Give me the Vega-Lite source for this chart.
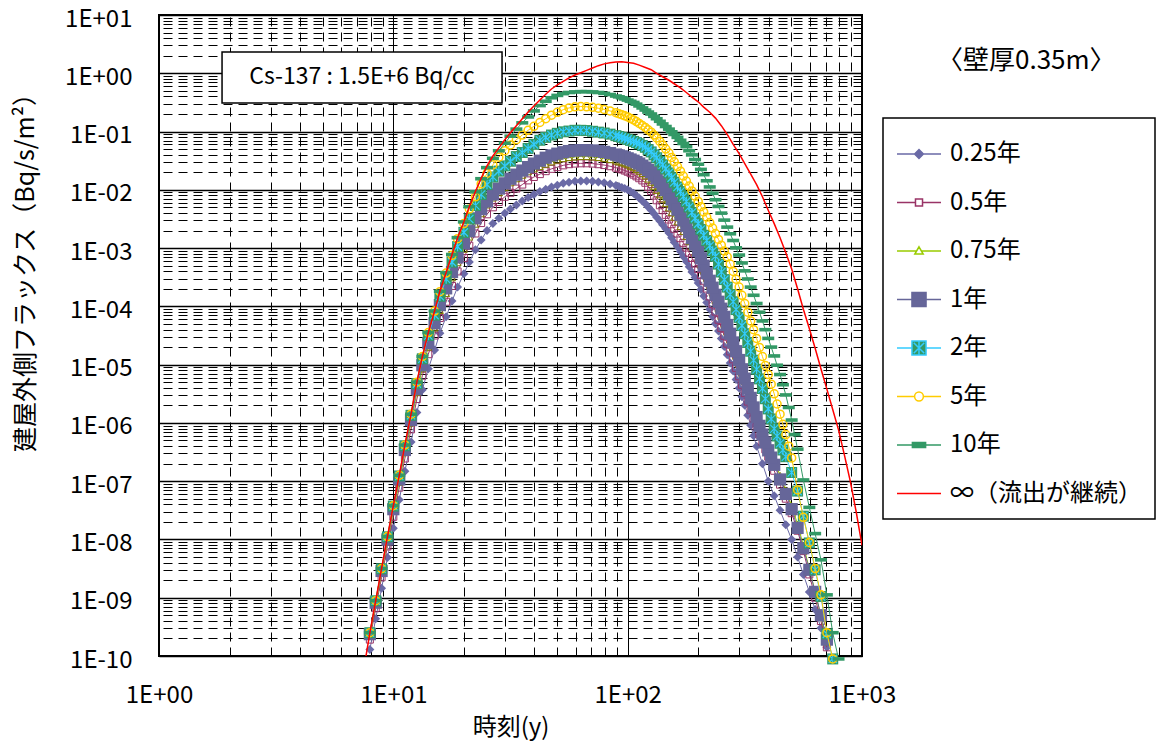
{
"$schema":"https://vega.github.io/schema/vega-lite/v6.json",
"width":703,"height":641,
"autosize":{"type":"none"},
"padding":{"left":159,"top":15,"right":301,"bottom":90},
"background":"white",
"config":{"font":"Noto Sans CJK JP","view":{"stroke":"black","strokeWidth":2,"fill":"white"},
"axis":{"labelFont":"Noto Sans CJK JP","titleFont":"Noto Sans CJK JP","labelColor":"black","titleColor":"black","titleFontWeight":"normal"},
"legend":{"strokeWidth":1.5}},
"title":{"text":"〈壁厚0.35m〉","anchor":"start","frame":"group","dx":778,"dy":80,"offset":0,"baseline":"middle","fontSize":26,"font":"Noto Sans CJK JP","fontWeight":"normal","color":"black"},
"datasets":{
"inf":[{"t":7.5,"f":6.3e-11},{"t":7.94,"f":2.5e-10},{"t":8.41,"f":8.9e-10},{"t":8.91,"f":3.2e-9},{"t":9.44,"f":1.12e-8},{"t":10,"f":3.8e-8},{"t":10.6,"f":1.26e-7},{"t":11.2,"f":4.17e-7},{"t":11.9,"f":1.41e-6},{"t":12.6,"f":5e-6},{"t":13.3,"f":1.38e-5},{"t":14.1,"f":3.55e-5},{"t":15,"f":8.3e-5},{"t":15.8,"f":1.82e-4},{"t":16.8,"f":3.8e-4},{"t":17.8,"f":7.76e-4},{"t":18.8,"f":1.51e-3},{"t":20,"f":2.82e-3},{"t":21.1,"f":5.13e-3},{"t":22.4,"f":9.33e-3},{"t":23.7,"f":0.0158},{"t":25.1,"f":0.0257},{"t":26.6,"f":0.038},{"t":28.2,"f":0.0525},{"t":29.9,"f":0.0724},{"t":31.6,"f":0.0955},{"t":33.5,"f":0.126},{"t":35.5,"f":0.166},{"t":37.6,"f":0.216},{"t":39.8,"f":0.275},{"t":42.2,"f":0.347},{"t":44.7,"f":0.437},{"t":47.3,"f":0.537},{"t":50.1,"f":0.631},{"t":53.1,"f":0.724},{"t":56.2,"f":0.832},{"t":59.6,"f":0.933},{"t":63.1,"f":1.02},{"t":66.8,"f":1.12},{"t":70.8,"f":1.23},{"t":75,"f":1.35},{"t":79.4,"f":1.45},{"t":84.1,"f":1.51},{"t":89.1,"f":1.56},{"t":94.4,"f":1.57},{"t":100,"f":1.53},{"t":106,"f":1.48},{"t":112,"f":1.38},{"t":119,"f":1.26},{"t":126,"f":1.15},{"t":133,"f":1.0},{"t":141,"f":0.871},{"t":150,"f":0.759},{"t":158,"f":0.661},{"t":168,"f":0.562},{"t":178,"f":0.468},{"t":188,"f":0.389},{"t":200,"f":0.324},{"t":211,"f":0.263},{"t":224,"f":0.214},{"t":237,"f":0.17},{"t":251,"f":0.126},{"t":266,"f":0.0891},{"t":282,"f":0.0603},{"t":299,"f":0.0417},{"t":316,"f":0.0282},{"t":335,"f":0.0186},{"t":355,"f":0.0123},{"t":376,"f":7.59e-3},{"t":398,"f":4.47e-3},{"t":422,"f":2.63e-3},{"t":447,"f":1.51e-3},{"t":473,"f":8.32e-4},{"t":501,"f":4.37e-4},{"t":531,"f":2e-4},{"t":562,"f":8.91e-5},{"t":596,"f":4.17e-5},{"t":631,"f":1.91e-5},{"t":668,"f":8.51e-6},{"t":708,"f":3.8e-6},{"t":750,"f":1.7e-6},{"t":794,"f":7.59e-7},{"t":841,"f":2.82e-7},{"t":891,"f":1e-7},{"t":944,"f":3.02e-8},{"t":1000,"f":7.94e-9}],
"y025":[{"t":7.94,"f":1.29e-10},{"t":8.41,"f":4.37e-10},{"t":8.91,"f":1.45e-9},{"t":9.44,"f":4.9e-9},{"t":10,"f":1.55e-8},{"t":10.6,"f":4.79e-8},{"t":11.2,"f":1.48e-7},{"t":11.9,"f":4.68e-7},{"t":12.6,"f":1.51e-6},{"t":13.3,"f":3.72e-6},{"t":14.1,"f":8.51e-6},{"t":15,"f":1.78e-5},{"t":15.8,"f":3.47e-5},{"t":16.8,"f":6.61e-5},{"t":17.8,"f":1.23e-4},{"t":18.8,"f":2.14e-4},{"t":20,"f":3.63e-4},{"t":21.1,"f":5.75e-4},{"t":22.4,"f":9.33e-4},{"t":23.7,"f":1.38e-3},{"t":25.1,"f":2e-3},{"t":26.6,"f":2.63e-3},{"t":28.2,"f":3.24e-3},{"t":29.9,"f":3.98e-3},{"t":31.6,"f":4.68e-3},{"t":33.5,"f":5.5e-3},{"t":35.5,"f":6.46e-3},{"t":37.6,"f":7.41e-3},{"t":39.8,"f":8.32e-3},{"t":42.2,"f":9.33e-3},{"t":44.7,"f":0.0102},{"t":47.3,"f":0.0112},{"t":50.1,"f":0.012},{"t":53.1,"f":0.0129},{"t":56.2,"f":0.0135},{"t":59.6,"f":0.014},{"t":63.1,"f":0.0141},{"t":66.8,"f":0.0141},{"t":70.8,"f":0.014},{"t":75,"f":0.0136},{"t":79.4,"f":0.0132},{"t":84.1,"f":0.0126},{"t":89.1,"f":0.0119},{"t":94.4,"f":0.011},{"t":100,"f":0.01},{"t":106,"f":8.71e-3},{"t":112,"f":7.24e-3},{"t":119,"f":5.75e-3},{"t":126,"f":4.47e-3},{"t":133,"f":3.39e-3},{"t":141,"f":2.51e-3},{"t":150,"f":1.82e-3},{"t":158,"f":1.26e-3},{"t":168,"f":8.71e-4},{"t":178,"f":5.89e-4},{"t":188,"f":3.89e-4},{"t":200,"f":2.51e-4},{"t":211,"f":1.51e-4},{"t":224,"f":8.91e-5},{"t":237,"f":5.01e-5},{"t":251,"f":2.82e-5},{"t":266,"f":1.48e-5},{"t":282,"f":7.76e-6},{"t":299,"f":3.98e-6},{"t":316,"f":2e-6},{"t":335,"f":9.12e-7},{"t":355,"f":3.98e-7},{"t":376,"f":2e-7},{"t":398,"f":1e-7},{"t":422,"f":5.62e-8},{"t":447,"f":3.16e-8},{"t":473,"f":1.78e-8},{"t":501,"f":1e-8},{"t":531,"f":5.01e-9},{"t":562,"f":2.51e-9},{"t":596,"f":1.26e-9},{"t":631,"f":6.31e-10},{"t":668,"f":3.02e-10},{"t":708,"f":1.41e-10},
{"t":91.7,"f":0.0114},{"t":97.2,"f":0.0105},{"t":102.9,"f":9.33e-3},{"t":109,"f":7.94e-3},{"t":115.5,"f":6.46e-3},{"t":122.3,"f":5.07e-3},{"t":129.6,"f":3.89e-3},{"t":137.2,"f":2.92e-3},{"t":145.4,"f":2.14e-3},{"t":154,"f":1.51e-3},{"t":163.1,"f":1.05e-3},{"t":172.8,"f":7.16e-4},{"t":183,"f":4.79e-4},{"t":193.9,"f":3.13e-4},{"t":205.4,"f":1.95e-4},{"t":217.5,"f":1.16e-4},{"t":230.4,"f":6.68e-5},{"t":244.1,"f":3.76e-5},{"t":258.5,"f":2.04e-5},{"t":273.8,"f":1.07e-5},{"t":290.1,"f":5.56e-6},{"t":307.3,"f":2.82e-6},{"t":325.5,"f":1.35e-6},{"t":344.7,"f":6.03e-7}],
"y05":[{"t":7.94,"f":1.91e-10},{"t":8.41,"f":6.61e-10},{"t":8.91,"f":2.24e-9},{"t":9.44,"f":7.59e-9},{"t":10,"f":2.45e-8},{"t":10.6,"f":7.76e-8},{"t":11.2,"f":2.45e-7},{"t":11.9,"f":7.76e-7},{"t":12.6,"f":2.57e-6},{"t":13.3,"f":6.46e-6},{"t":14.1,"f":1.51e-5},{"t":15,"f":3.16e-5},{"t":15.8,"f":6.31e-5},{"t":16.8,"f":1.2e-4},{"t":17.8,"f":2.24e-4},{"t":18.8,"f":3.98e-4},{"t":20,"f":6.76e-4},{"t":21.1,"f":1.1e-3},{"t":22.4,"f":1.78e-3},{"t":23.7,"f":2.69e-3},{"t":25.1,"f":3.8e-3},{"t":26.6,"f":5.01e-3},{"t":28.2,"f":6.17e-3},{"t":29.9,"f":7.59e-3},{"t":31.6,"f":8.91e-3},{"t":33.5,"f":0.0105},{"t":35.5,"f":0.0123},{"t":37.6,"f":0.0145},{"t":39.8,"f":0.0166},{"t":42.2,"f":0.0186},{"t":44.7,"f":0.0209},{"t":47.3,"f":0.0229},{"t":50.1,"f":0.0245},{"t":53.1,"f":0.0263},{"t":56.2,"f":0.0275},{"t":59.6,"f":0.0282},{"t":63.1,"f":0.0285},{"t":66.8,"f":0.0285},{"t":70.8,"f":0.0282},{"t":75,"f":0.0275},{"t":79.4,"f":0.0266},{"t":84.1,"f":0.0254},{"t":89.1,"f":0.024},{"t":94.4,"f":0.0224},{"t":100,"f":0.0204},{"t":106,"f":0.0182},{"t":112,"f":0.0158},{"t":119,"f":0.0132},{"t":126,"f":9.55e-3},{"t":133,"f":6.61e-3},{"t":141,"f":4.47e-3},{"t":150,"f":3.09e-3},{"t":158,"f":2.14e-3},{"t":168,"f":1.48e-3},{"t":178,"f":1.02e-3},{"t":188,"f":6.76e-4},{"t":200,"f":4.37e-4},{"t":211,"f":2.75e-4},{"t":224,"f":1.48e-4},{"t":237,"f":8.13e-5},{"t":251,"f":4.27e-5},{"t":266,"f":2.29e-5},{"t":282,"f":1.23e-5},{"t":299,"f":6.31e-6},{"t":316,"f":3.24e-6},{"t":335,"f":1.66e-6},{"t":355,"f":8.51e-7},{"t":376,"f":4.68e-7},{"t":398,"f":2.63e-7},{"t":422,"f":1.51e-7},{"t":447,"f":8.71e-8},{"t":473,"f":5.01e-8},{"t":501,"f":2.82e-8},{"t":531,"f":1.41e-8},{"t":562,"f":6.31e-9},{"t":596,"f":2.51e-9},{"t":631,"f":1e-9},{"t":668,"f":3.98e-10},{"t":708,"f":1.41e-10},
{"t":91.7,"f":0.0232},{"t":97.2,"f":0.0214},{"t":102.9,"f":0.0193},{"t":109,"f":0.017},{"t":115.5,"f":0.0145},{"t":122.3,"f":0.0112},{"t":129.6,"f":7.94e-3},{"t":137.2,"f":5.43e-3},{"t":145.4,"f":3.72e-3},{"t":154,"f":2.57e-3},{"t":163.1,"f":1.78e-3},{"t":172.8,"f":1.23e-3},{"t":183,"f":8.32e-4},{"t":193.9,"f":5.43e-4},{"t":205.4,"f":3.47e-4},{"t":217.5,"f":2.02e-4},{"t":230.4,"f":1.1e-4},{"t":244.1,"f":5.89e-5},{"t":258.5,"f":3.13e-5},{"t":273.8,"f":1.68e-5},{"t":290.1,"f":8.81e-6},{"t":307.3,"f":4.52e-6},{"t":325.5,"f":2.32e-6},{"t":344.7,"f":1.19e-6},{"t":365.2,"f":6.31e-7},{"t":386.8,"f":3.51e-7}],
"y075":[{"t":7.94,"f":2.21e-10},{"t":8.41,"f":7.67e-10},{"t":8.91,"f":2.66e-9},{"t":9.44,"f":9.12e-9},{"t":10,"f":3.02e-8},{"t":10.6,"f":9.55e-8},{"t":11.2,"f":3.09e-7},{"t":11.9,"f":1e-6},{"t":12.6,"f":3.31e-6},{"t":13.3,"f":8.51e-6},{"t":14.1,"f":2e-5},{"t":15,"f":4.27e-5},{"t":15.8,"f":8.51e-5},{"t":16.8,"f":1.66e-4},{"t":17.8,"f":3.09e-4},{"t":18.8,"f":5.62e-4},{"t":20,"f":9.55e-4},{"t":21.1,"f":1.55e-3},{"t":22.4,"f":2.57e-3},{"t":23.7,"f":3.89e-3},{"t":25.1,"f":5.5e-3},{"t":26.6,"f":7.24e-3},{"t":28.2,"f":8.91e-3},{"t":29.9,"f":0.011},{"t":31.6,"f":0.0132},{"t":33.5,"f":0.0155},{"t":35.5,"f":0.0178},{"t":37.6,"f":0.0204},{"t":39.8,"f":0.0229},{"t":42.2,"f":0.0251},{"t":44.7,"f":0.0275},{"t":47.3,"f":0.0302},{"t":50.1,"f":0.0324},{"t":53.1,"f":0.0343},{"t":56.2,"f":0.0359},{"t":59.6,"f":0.0367},{"t":63.1,"f":0.0372},{"t":66.8,"f":0.0372},{"t":70.8,"f":0.0367},{"t":75,"f":0.0359},{"t":79.4,"f":0.0347},{"t":84.1,"f":0.0331},{"t":89.1,"f":0.0313},{"t":94.4,"f":0.0292},{"t":100,"f":0.0269},{"t":106,"f":0.024},{"t":112,"f":0.0209},{"t":119,"f":0.0174},{"t":126,"f":0.0135},{"t":133,"f":9.77e-3},{"t":141,"f":6.92e-3},{"t":150,"f":4.9e-3},{"t":158,"f":3.39e-3},{"t":168,"f":2.34e-3},{"t":178,"f":1.58e-3},{"t":188,"f":1.05e-3},{"t":200,"f":6.76e-4},{"t":211,"f":4.07e-4},{"t":224,"f":2.29e-4},{"t":237,"f":1.26e-4},{"t":251,"f":6.76e-5},{"t":266,"f":3.63e-5},{"t":282,"f":1.95e-5},{"t":299,"f":1e-5},{"t":316,"f":5.13e-6},{"t":335,"f":2.63e-6},{"t":355,"f":1.35e-6},{"t":376,"f":7.24e-7},{"t":398,"f":3.98e-7},{"t":422,"f":2.24e-7},{"t":447,"f":1.26e-7},{"t":473,"f":7.08e-8},{"t":501,"f":3.8e-8},{"t":531,"f":1.82e-8},{"t":562,"f":7.94e-9},{"t":596,"f":3.16e-9},{"t":631,"f":1.26e-9},{"t":668,"f":4.79e-10},{"t":708,"f":1.74e-10},
{"t":91.7,"f":0.0302},{"t":97.2,"f":0.028},{"t":102.9,"f":0.0254},{"t":109,"f":0.0224},{"t":115.5,"f":0.0191},{"t":122.3,"f":0.0153},{"t":129.6,"f":0.0115},{"t":137.2,"f":8.22e-3},{"t":145.4,"f":5.82e-3},{"t":154,"f":4.07e-3},{"t":163.1,"f":2.82e-3},{"t":172.8,"f":1.93e-3},{"t":183,"f":1.29e-3},{"t":193.9,"f":8.41e-4},{"t":205.4,"f":5.25e-4},{"t":217.5,"f":3.05e-4},{"t":230.4,"f":1.7e-4},{"t":244.1,"f":9.23e-5},{"t":258.5,"f":4.95e-5},{"t":273.8,"f":2.66e-5},{"t":290.1,"f":1.4e-5},{"t":307.3,"f":7.16e-6},{"t":325.5,"f":3.67e-6},{"t":344.7,"f":1.88e-6},{"t":365.2,"f":9.89e-7},{"t":386.8,"f":5.37e-7},{"t":409.7,"f":2.99e-7}],
"y1":[{"t":7.94,"f":2.37e-10},{"t":8.41,"f":8.22e-10},{"t":8.91,"f":2.88e-9},{"t":9.44,"f":1e-8},{"t":10,"f":3.31e-8},{"t":10.6,"f":1.07e-7},{"t":11.2,"f":3.43e-7},{"t":11.9,"f":1.12e-6},{"t":12.6,"f":3.8e-6},{"t":13.3,"f":9.77e-6},{"t":14.1,"f":2.34e-5},{"t":15,"f":5.13e-5},{"t":15.8,"f":1.05e-4},{"t":16.8,"f":2.04e-4},{"t":17.8,"f":3.89e-4},{"t":18.8,"f":6.92e-4},{"t":20,"f":1.2e-3},{"t":21.1,"f":1.95e-3},{"t":22.4,"f":3.24e-3},{"t":23.7,"f":4.68e-3},{"t":25.1,"f":6.31e-3},{"t":26.6,"f":8.32e-3},{"t":28.2,"f":0.0105},{"t":29.9,"f":0.0129},{"t":31.6,"f":0.0155},{"t":33.5,"f":0.0182},{"t":35.5,"f":0.0214},{"t":37.6,"f":0.0245},{"t":39.8,"f":0.0282},{"t":42.2,"f":0.0316},{"t":44.7,"f":0.0355},{"t":47.3,"f":0.0389},{"t":50.1,"f":0.0417},{"t":53.1,"f":0.0442},{"t":56.2,"f":0.0462},{"t":59.6,"f":0.0473},{"t":63.1,"f":0.0479},{"t":66.8,"f":0.0479},{"t":70.8,"f":0.0473},{"t":75,"f":0.0462},{"t":79.4,"f":0.0447},{"t":84.1,"f":0.0427},{"t":89.1,"f":0.0403},{"t":94.4,"f":0.0376},{"t":100,"f":0.0347},{"t":106,"f":0.0316},{"t":112,"f":0.0282},{"t":119,"f":0.024},{"t":126,"f":0.02},{"t":133,"f":0.0158},{"t":141,"f":0.0117},{"t":150,"f":8.32e-3},{"t":158,"f":5.62e-3},{"t":168,"f":3.72e-3},{"t":178,"f":2.4e-3},{"t":188,"f":1.48e-3},{"t":200,"f":8.91e-4},{"t":211,"f":5.01e-4},{"t":224,"f":2.75e-4},{"t":237,"f":1.58e-4},{"t":251,"f":9.12e-5},{"t":266,"f":4.79e-5},{"t":282,"f":2.4e-5},{"t":299,"f":1.2e-5},{"t":316,"f":5.75e-6},{"t":335,"f":2.69e-6},{"t":355,"f":1.26e-6},{"t":376,"f":6.31e-7},{"t":398,"f":3.39e-7},{"t":422,"f":1.91e-7},{"t":447,"f":1.07e-7},{"t":473,"f":6.03e-8},{"t":501,"f":3.31e-8},{"t":531,"f":1.58e-8},{"t":562,"f":7.08e-9},{"t":596,"f":3.02e-9},{"t":631,"f":1.26e-9},{"t":668,"f":5.01e-10},{"t":708,"f":1.91e-10},
{"t":91.7,"f":0.0389},{"t":97.2,"f":0.0361},{"t":102.9,"f":0.0331},{"t":109,"f":0.0299},{"t":115.5,"f":0.026},{"t":122.3,"f":0.0219},{"t":129.6,"f":0.0178},{"t":137.2,"f":0.0136},{"t":145.4,"f":9.89e-3},{"t":154,"f":6.84e-3},{"t":163.1,"f":4.57e-3},{"t":172.8,"f":2.99e-3},{"t":183,"f":1.88e-3},{"t":193.9,"f":1.15e-3},{"t":205.4,"f":6.68e-4},{"t":217.5,"f":3.72e-4},{"t":230.4,"f":2.09e-4},{"t":244.1,"f":1.2e-4},{"t":258.5,"f":6.61e-5},{"t":273.8,"f":3.39e-5},{"t":290.1,"f":1.7e-5},{"t":307.3,"f":8.32e-6},{"t":325.5,"f":3.94e-6},{"t":344.7,"f":1.84e-6},{"t":365.2,"f":8.91e-7},{"t":386.8,"f":4.62e-7},{"t":409.7,"f":2.54e-7}],
"y2":[{"t":7.94,"f":2.51e-10},{"t":8.41,"f":8.87e-10},{"t":8.91,"f":3.14e-9},{"t":9.44,"f":1.11e-8},{"t":10,"f":3.74e-8},{"t":10.6,"f":1.23e-7},{"t":11.2,"f":4.05e-7},{"t":11.9,"f":1.35e-6},{"t":12.6,"f":4.72e-6},{"t":13.3,"f":1.26e-5},{"t":14.1,"f":3.16e-5},{"t":15,"f":7.08e-5},{"t":15.8,"f":1.49e-4},{"t":16.8,"f":2.95e-4},{"t":17.8,"f":5.75e-4},{"t":18.8,"f":1.06e-3},{"t":20,"f":1.86e-3},{"t":21.1,"f":3.16e-3},{"t":22.4,"f":5.37e-3},{"t":23.7,"f":8.32e-3},{"t":25.1,"f":0.0123},{"t":26.6,"f":0.0166},{"t":28.2,"f":0.0209},{"t":29.9,"f":0.0257},{"t":31.6,"f":0.0309},{"t":33.5,"f":0.0372},{"t":35.5,"f":0.0437},{"t":37.6,"f":0.0513},{"t":39.8,"f":0.0603},{"t":42.2,"f":0.0708},{"t":44.7,"f":0.0794},{"t":47.3,"f":0.0871},{"t":50.1,"f":0.0933},{"t":53.1,"f":0.0989},{"t":56.2,"f":0.102},{"t":59.6,"f":0.105},{"t":63.1,"f":0.105},{"t":66.8,"f":0.104},{"t":70.8,"f":0.101},{"t":75,"f":0.0977},{"t":79.4,"f":0.0944},{"t":84.1,"f":0.0902},{"t":89.1,"f":0.0851},{"t":94.4,"f":0.0794},{"t":100,"f":0.0733},{"t":106,"f":0.0676},{"t":112,"f":0.0617},{"t":119,"f":0.0537},{"t":126,"f":0.0447},{"t":133,"f":0.0355},{"t":141,"f":0.0269},{"t":150,"f":0.0195},{"t":158,"f":0.0135},{"t":168,"f":9.33e-3},{"t":178,"f":6.31e-3},{"t":188,"f":4.07e-3},{"t":200,"f":2.63e-3},{"t":211,"f":1.66e-3},{"t":224,"f":1.1e-3},{"t":237,"f":7.24e-4},{"t":251,"f":3.89e-4},{"t":266,"f":2.14e-4},{"t":282,"f":1.2e-4},{"t":299,"f":6.46e-5},{"t":316,"f":3.39e-5},{"t":335,"f":1.7e-5},{"t":355,"f":8.32e-6},{"t":376,"f":3.89e-6},{"t":398,"f":1.74e-6},{"t":422,"f":7.94e-7},{"t":447,"f":4.47e-7},{"t":473,"f":2.63e-7},{"t":501,"f":1.41e-7},{"t":531,"f":6.76e-8},{"t":562,"f":2.51e-8},{"t":596,"f":8.71e-9},{"t":631,"f":3.02e-9},{"t":668,"f":1.05e-9},{"t":708,"f":2.4e-10},{"t":750,"f":8.91e-11},
{"t":91.7,"f":0.0822},{"t":97.2,"f":0.0763},{"t":102.9,"f":0.0704},{"t":109,"f":0.0646},{"t":115.5,"f":0.0575},{"t":122.3,"f":0.049},{"t":129.6,"f":0.0398},{"t":137.2,"f":0.0309},{"t":145.4,"f":0.0229},{"t":154,"f":0.0162},{"t":163.1,"f":0.0112},{"t":172.8,"f":7.67e-3},{"t":183,"f":5.07e-3},{"t":193.9,"f":3.27e-3},{"t":205.4,"f":2.09e-3},{"t":217.5,"f":1.35e-3},{"t":230.4,"f":8.91e-4},{"t":244.1,"f":5.31e-4},{"t":258.5,"f":2.88e-4},{"t":273.8,"f":1.6e-4},{"t":290.1,"f":8.81e-5},{"t":307.3,"f":4.68e-5},{"t":325.5,"f":2.4e-5},{"t":344.7,"f":1.19e-5},{"t":365.2,"f":5.69e-6},{"t":386.8,"f":2.6e-6},{"t":409.7,"f":1.17e-6},{"t":434,"f":5.96e-7},{"t":459.7,"f":3.43e-7}],
"y5":[{"t":7.94,"f":2.51e-10},{"t":8.41,"f":8.91e-10},{"t":8.91,"f":3.16e-9},{"t":9.44,"f":1.12e-8},{"t":10,"f":3.8e-8},{"t":10.6,"f":1.26e-7},{"t":11.2,"f":4.17e-7},{"t":11.9,"f":1.41e-6},{"t":12.6,"f":5.01e-6},{"t":13.3,"f":1.38e-5},{"t":14.1,"f":3.55e-5},{"t":15,"f":8.32e-5},{"t":15.8,"f":1.79e-4},{"t":16.8,"f":3.72e-4},{"t":17.8,"f":7.5e-4},{"t":18.8,"f":1.45e-3},{"t":20,"f":2.63e-3},{"t":21.1,"f":4.68e-3},{"t":22.4,"f":7.59e-3},{"t":23.7,"f":0.0126},{"t":25.1,"f":0.0191},{"t":26.6,"f":0.0269},{"t":28.2,"f":0.0363},{"t":29.9,"f":0.0468},{"t":31.6,"f":0.0589},{"t":33.5,"f":0.0724},{"t":35.5,"f":0.0871},{"t":37.6,"f":0.105},{"t":39.8,"f":0.123},{"t":42.2,"f":0.143},{"t":44.7,"f":0.166},{"t":47.3,"f":0.191},{"t":50.1,"f":0.214},{"t":53.1,"f":0.237},{"t":56.2,"f":0.254},{"t":59.6,"f":0.266},{"t":63.1,"f":0.269},{"t":66.8,"f":0.266},{"t":70.8,"f":0.26},{"t":75,"f":0.251},{"t":79.4,"f":0.24},{"t":84.1,"f":0.226},{"t":89.1,"f":0.211},{"t":94.4,"f":0.195},{"t":100,"f":0.178},{"t":106,"f":0.158},{"t":112,"f":0.138},{"t":119,"f":0.117},{"t":126,"f":0.0977},{"t":133,"f":0.0776},{"t":141,"f":0.0589},{"t":150,"f":0.0427},{"t":158,"f":0.0302},{"t":168,"f":0.0209},{"t":178,"f":0.0141},{"t":188,"f":9.55e-3},{"t":200,"f":6.31e-3},{"t":211,"f":4.17e-3},{"t":224,"f":2.75e-3},{"t":237,"f":1.78e-3},{"t":251,"f":1.12e-3},{"t":266,"f":7.08e-4},{"t":282,"f":3.98e-4},{"t":299,"f":2.14e-4},{"t":316,"f":1.12e-4},{"t":335,"f":5.62e-5},{"t":355,"f":2.82e-5},{"t":376,"f":1.38e-5},{"t":398,"f":6.76e-6},{"t":422,"f":3.16e-6},{"t":447,"f":1.41e-6},{"t":473,"f":6.31e-7},{"t":501,"f":2.51e-7},{"t":531,"f":7.08e-8},{"t":562,"f":2.4e-8},{"t":596,"f":8.91e-9},{"t":631,"f":3.16e-9},{"t":668,"f":1.12e-9},{"t":708,"f":2.51e-10},{"t":750,"f":8.91e-11},
{"t":91.7,"f":0.203},{"t":97.2,"f":0.186},{"t":102.9,"f":0.168},{"t":109,"f":0.148},{"t":115.5,"f":0.127},{"t":122.3,"f":0.107},{"t":129.6,"f":0.0871},{"t":137.2,"f":0.0676},{"t":145.4,"f":0.0501},{"t":154,"f":0.0359},{"t":163.1,"f":0.0251},{"t":172.8,"f":0.0172},{"t":183,"f":0.0116},{"t":193.9,"f":7.76e-3},{"t":205.4,"f":5.13e-3},{"t":217.5,"f":3.39e-3},{"t":230.4,"f":2.21e-3},{"t":244.1,"f":1.41e-3},{"t":258.5,"f":8.91e-4},{"t":273.8,"f":5.31e-4},{"t":290.1,"f":2.92e-4},{"t":307.3,"f":1.55e-4},{"t":325.5,"f":7.94e-5},{"t":344.7,"f":3.98e-5},{"t":365.2,"f":1.97e-5},{"t":386.8,"f":9.66e-6},{"t":409.7,"f":4.62e-6},{"t":434,"f":2.11e-6},{"t":459.7,"f":9.44e-7},{"t":486.9,"f":3.98e-7}],
"y10":[{"t":7.94,"f":2.51e-10},{"t":8.41,"f":8.91e-10},{"t":8.91,"f":3.16e-9},{"t":9.44,"f":1.12e-8},{"t":10,"f":3.8e-8},{"t":10.6,"f":1.26e-7},{"t":11.2,"f":4.17e-7},{"t":11.9,"f":1.41e-6},{"t":12.6,"f":5.01e-6},{"t":13.3,"f":1.38e-5},{"t":14.1,"f":3.55e-5},{"t":15,"f":8.32e-5},{"t":15.8,"f":1.82e-4},{"t":16.8,"f":3.8e-4},{"t":17.8,"f":7.76e-4},{"t":18.8,"f":1.51e-3},{"t":20,"f":2.82e-3},{"t":21.1,"f":5.13e-3},{"t":22.4,"f":9.23e-3},{"t":23.7,"f":0.0155},{"t":25.1,"f":0.024},{"t":26.6,"f":0.0347},{"t":28.2,"f":0.0468},{"t":29.9,"f":0.0631},{"t":31.6,"f":0.0832},{"t":33.5,"f":0.11},{"t":35.5,"f":0.141},{"t":37.6,"f":0.178},{"t":39.8,"f":0.226},{"t":42.2,"f":0.279},{"t":44.7,"f":0.331},{"t":47.3,"f":0.38},{"t":50.1,"f":0.417},{"t":53.1,"f":0.447},{"t":56.2,"f":0.468},{"t":59.6,"f":0.479},{"t":63.1,"f":0.484},{"t":66.8,"f":0.484},{"t":70.8,"f":0.479},{"t":75,"f":0.468},{"t":79.4,"f":0.452},{"t":84.1,"f":0.432},{"t":89.1,"f":0.407},{"t":94.4,"f":0.38},{"t":100,"f":0.347},{"t":106,"f":0.316},{"t":112,"f":0.275},{"t":119,"f":0.234},{"t":126,"f":0.2},{"t":133,"f":0.166},{"t":141,"f":0.135},{"t":150,"f":0.11},{"t":158,"f":0.0891},{"t":168,"f":0.0708},{"t":178,"f":0.055},{"t":188,"f":0.0398},{"t":200,"f":0.0275},{"t":211,"f":0.0182},{"t":224,"f":0.0112},{"t":237,"f":6.76e-3},{"t":251,"f":3.98e-3},{"t":266,"f":2.29e-3},{"t":282,"f":1.35e-3},{"t":299,"f":7.59e-4},{"t":316,"f":4.07e-4},{"t":335,"f":2.14e-4},{"t":355,"f":1.12e-4},{"t":376,"f":5.62e-5},{"t":398,"f":2.82e-5},{"t":422,"f":1.41e-5},{"t":447,"f":6.76e-6},{"t":473,"f":3.02e-6},{"t":501,"f":1.12e-6},{"t":531,"f":3.55e-7},{"t":562,"f":1.05e-7},{"t":596,"f":3.55e-8},{"t":631,"f":1.26e-8},{"t":668,"f":4.47e-9},{"t":708,"f":1.12e-9},{"t":750,"f":2.51e-10},{"t":794,"f":8.91e-11},
{"t":91.7,"f":0.394},{"t":97.2,"f":0.363},{"t":102.9,"f":0.331},{"t":109,"f":0.295},{"t":115.5,"f":0.254},{"t":122.3,"f":0.216},{"t":129.6,"f":0.182},{"t":137.2,"f":0.15},{"t":145.4,"f":0.122},{"t":154,"f":0.0989},{"t":163.1,"f":0.0794},{"t":172.8,"f":0.0624},{"t":183,"f":0.0468},{"t":193.9,"f":0.0331},{"t":205.4,"f":0.0224},{"t":217.5,"f":0.0143},{"t":230.4,"f":8.71e-3},{"t":244.1,"f":5.19e-3},{"t":258.5,"f":3.02e-3},{"t":273.8,"f":1.76e-3},{"t":290.1,"f":1.01e-3},{"t":307.3,"f":5.56e-4},{"t":325.5,"f":2.95e-4},{"t":344.7,"f":1.55e-4},{"t":365.2,"f":7.94e-5},{"t":386.8,"f":3.98e-5},{"t":409.7,"f":2e-5},{"t":434,"f":9.77e-6},{"t":459.7,"f":4.52e-6},{"t":486.9,"f":1.84e-6},{"t":515.8,"f":6.31e-7}],
"leg":[{"s":"0.25年","t":0.5,"f":1},{"s":"0.5年","t":0.5,"f":1},{"s":"0.75年","t":0.5,"f":1},{"s":"1年","t":0.5,"f":1},{"s":"2年","t":0.5,"f":1},{"s":"5年","t":0.5,"f":1},{"s":"10年","t":0.5,"f":1},{"s":"∞（流出が継続）","t":0.5,"f":1}]
},
"layer":[
{"data":{"values":[{}]},"mark":{"type":"rect","fill":"white","stroke":"black","strokeWidth":1.5},
 "encoding":{"x":{"datum":1.858,"type":"quantitative","axis":null},"x2":{"datum":29.1},"y":{"datum":2.32,"type":"quantitative","axis":null},"y2":{"datum":0.31}}},
{"data":{"values":[{}]},"mark":{"type":"text","text":"Cs-137 : 1.5E+6 Bq/cc","fontSize":23,"font":"Noto Sans CJK JP","align":"center","baseline":"middle","color":"black"},
 "encoding":{"x":{"datum":7.35,"type":"quantitative","axis":null},"y":{"datum":0.865,"type":"quantitative","axis":null}}},
{"data":{"name":"y025"},"mark":{"type":"line","color":"#6A6AA6","strokeWidth":1,"clip":true},
 "encoding":{
  "x":{"field":"t","type":"quantitative","scale":{"type":"log","domain":[1,1000],"nice":false},
   "axis":{"orient":"bottom","values":[1,10,100,1000],"labelExpr":"'1E' + (datum.value >= 1 ? '+' : '-') + (abs(round(log(datum.value)/LN10)) < 10 ? '0' : '') + abs(round(log(datum.value)/LN10))","grid":true,"gridColor":"black","gridWidth":1,"gridOpacity":1,"domain":false,"ticks":false,"labelPadding":27,"labelFontSize":24,"labelOverlap":false,"labelFlush":false,"title":"時刻(y)","titleFontSize":24,"titlePadding":8}},
  "y":{"field":"f","type":"quantitative","scale":{"type":"log","domain":[1e-10,10],"nice":false},
   "axis":{"orient":"left","values":[1e-10,1e-9,1e-8,1e-7,1e-6,1e-5,1e-4,1e-3,0.01,0.1,1,10],"labelExpr":"'1E' + (datum.value >= 1 ? '+' : '-') + (abs(round(log(datum.value)/LN10)) < 10 ? '0' : '') + abs(round(log(datum.value)/LN10))","grid":true,"gridColor":"black","gridWidth":1.5,"gridOpacity":1,"domain":false,"ticks":false,"labelPadding":27,"labelOffset":4,"labelFontSize":24,"labelOverlap":false,"labelFlush":false,"title":"建屋外側フラックス（Bq/s/m²）","titleFontSize":25,"titleX":-134,"titleY":251,"titleAngle":-90,"titleAlign":"center","titleBaseline":"middle"}}}},
{"data":{"name":"y025"},"mark":{"type":"point","shape":"diamond","filled":true,"color":"#6A6AA6","size":81,"opacity":1},
 "encoding":{
  "x":{"field":"t","type":"quantitative","axis":{"orient":"top","values":[2,3,4,5,6,7,8,9,20,30,40,50,60,70,80,90,200,300,400,500,600,700,800,900],"grid":true,"gridColor":"black","gridDash":[9,6],"gridWidth":1,"gridOpacity":1,"labels":false,"ticks":false,"domain":false,"title":null}},
  "y":{"field":"f","type":"quantitative","axis":{"orient":"right","values":[2e-10,3e-10,4e-10,5e-10,6e-10,7e-10,8e-10,9e-10,2e-9,3e-9,4e-9,5e-9,6e-9,7e-9,8e-9,9e-9,2e-8,3e-8,4e-8,5e-8,6e-8,7e-8,8e-8,9e-8,2e-7,3e-7,4e-7,5e-7,6e-7,7e-7,8e-7,9e-7,2e-6,3e-6,4e-6,5e-6,6e-6,7e-6,8e-6,9e-6,2e-5,3e-5,4e-5,5e-5,6e-5,7e-5,8e-5,9e-5,2e-4,3e-4,4e-4,5e-4,6e-4,7e-4,8e-4,9e-4,0.002,0.003,0.004,0.005,0.006,0.007,0.008,0.009,0.02,0.03,0.04,0.05,0.06,0.07,0.08,0.09,0.2,0.3,0.4,0.5,0.6,0.7,0.8,0.9,2,3,4,5,6,7,8,9],"grid":true,"gridColor":"black","gridDash":[9,6],"gridWidth":1,"gridOpacity":1,"labels":false,"ticks":false,"domain":false,"title":null}}}},
{"data":{"name":"y05"},"mark":{"type":"line","color":"#993366","strokeWidth":1,"clip":true},"encoding":{"x":{"field":"t","type":"quantitative","axis":null},"y":{"field":"f","type":"quantitative","axis":null}}},
{"data":{"name":"y05"},"mark":{"type":"point","shape":"square","filled":false,"stroke":"#993366","strokeWidth":1,"size":49,"opacity":1},"encoding":{"x":{"field":"t","type":"quantitative","axis":null},"y":{"field":"f","type":"quantitative","axis":null}}},
{"data":{"name":"y075"},"mark":{"type":"line","color":"#99CC00","strokeWidth":1,"clip":true},"encoding":{"x":{"field":"t","type":"quantitative","axis":null},"y":{"field":"f","type":"quantitative","axis":null}}},
{"data":{"name":"y075"},"mark":{"type":"point","shape":"triangle-up","filled":false,"stroke":"#808000","strokeWidth":1,"size":49,"opacity":1},"encoding":{"x":{"field":"t","type":"quantitative","axis":null},"y":{"field":"f","type":"quantitative","axis":null}}},
{"data":{"name":"y1"},"mark":{"type":"line","color":"#666699","strokeWidth":1,"clip":true},"encoding":{"x":{"field":"t","type":"quantitative","axis":null},"y":{"field":"f","type":"quantitative","axis":null}}},
{"data":{"name":"y1"},"mark":{"type":"point","shape":"square","filled":true,"color":"#666699","size":150,"opacity":1},"encoding":{"x":{"field":"t","type":"quantitative","axis":null},"y":{"field":"f","type":"quantitative","axis":null}}},
{"data":{"name":"y2"},"mark":{"type":"line","color":"#33CCFF","strokeWidth":1,"clip":true},"encoding":{"x":{"field":"t","type":"quantitative","axis":null},"y":{"field":"f","type":"quantitative","axis":null}}},
{"data":{"name":"y2"},"mark":{"type":"point","shape":"square","filled":true,"color":"#339966","size":121,"opacity":1},"encoding":{"x":{"field":"t","type":"quantitative","axis":null},"y":{"field":"f","type":"quantitative","axis":null}}},
{"data":{"name":"y2"},"mark":{"type":"point","shape":"M-0.75,-0.75L0.75,0.75M-0.75,0.75L0.75,-0.75M0,-0.85V0.85","filled":false,"stroke":"#33CCFF","strokeWidth":1.2,"size":121,"opacity":1},"encoding":{"x":{"field":"t","type":"quantitative","axis":null},"y":{"field":"f","type":"quantitative","axis":null}}},
{"data":{"name":"y5"},"mark":{"type":"line","color":"#FFCC00","strokeWidth":1,"clip":true},"encoding":{"x":{"field":"t","type":"quantitative","axis":null},"y":{"field":"f","type":"quantitative","axis":null}}},
{"data":{"name":"y5"},"mark":{"type":"point","shape":"circle","filled":false,"stroke":"#FFCC00","strokeWidth":1.5,"size":64,"opacity":1},"encoding":{"x":{"field":"t","type":"quantitative","axis":null},"y":{"field":"f","type":"quantitative","axis":null}}},
{"data":{"name":"y10"},"mark":{"type":"line","color":"#339966","strokeWidth":1,"clip":true},"encoding":{"x":{"field":"t","type":"quantitative","axis":null},"y":{"field":"f","type":"quantitative","axis":null}}},
{"data":{"name":"y10"},"mark":{"type":"point","shape":"M-1,-0.3H1V0.3H-1Z","filled":true,"color":"#339966","size":144,"opacity":1},"encoding":{"x":{"field":"t","type":"quantitative","axis":null},"y":{"field":"f","type":"quantitative","axis":null}}},
{"data":{"name":"inf"},"mark":{"type":"line","color":"#FF0000","strokeWidth":1.5,"clip":true},"encoding":{"x":{"field":"t","type":"quantitative","axis":null},"y":{"field":"f","type":"quantitative","axis":null}}},
{"data":{"name":"leg"},"mark":{"type":"point","clip":true,"opacity":1,"strokeWidth":1.5},
 "encoding":{"x":{"field":"t","type":"quantitative","axis":null},"y":{"field":"f","type":"quantitative","axis":null},
  "shape":{"field":"s","type":"nominal","scale":{"domain":["0.25年","0.5年","0.75年","1年","2年","5年","10年","∞（流出が継続）"],"range":["M-1,0H1M-0.2,0L0,-0.2L0.2,0L0,0.2Z","M-1,0H-0.16M0.16,0H1M-0.16,-0.16H0.16V0.16H-0.16Z","M-1,0H-0.1M0.1,0H1M0,-0.19L0.19,0.14H-0.19Z","M-1,0H1M-0.32,-0.32H0.32V0.32H-0.32Z","M-1,0H-0.32M0.32,0H1M-0.32,-0.32H0.32V0.32H-0.32ZM-0.24,-0.24L0.24,0.24M-0.24,0.24L0.24,-0.24M0,-0.28V0.28","M-1,0H-0.2M0.2,0H1M0.2,0A0.2,0.2,0,1,1,-0.2,0A0.2,0.2,0,1,1,0.2,0Z","M-1,0H1M-0.3,-0.11H0.3V0.11H-0.3Z","M-1,0H1"]},
   "legend":{"title":null,"orient":"none","legendX":724,"legendY":103,"labelFontSize":24,"labelFont":"Noto Sans CJK JP","labelColor":"black","labelLimit":400,"symbolSize":1936,"symbolStrokeWidth":1.5,"strokeColor":"black","fillColor":"white","padding":13,"rowPadding":13.5,"labelOffset":8,"labelBaseline":"middle"}},
  "fill":{"field":"s","type":"nominal","scale":{"domain":["0.25年","0.5年","0.75年","1年","2年","5年","10年","∞（流出が継続）"],"range":["#6A6AA6","white","white","#666699","#339966","white","#339966","white"]}},
  "stroke":{"field":"s","type":"nominal","scale":{"domain":["0.25年","0.5年","0.75年","1年","2年","5年","10年","∞（流出が継続）"],"range":["#6A6AA6","#993366","#99CC00","#666699","#33CCFF","#FFCC00","#339966","#FF0000"]}}}}
],
"resolve":{"axis":{"x":"independent","y":"independent"}}
}
